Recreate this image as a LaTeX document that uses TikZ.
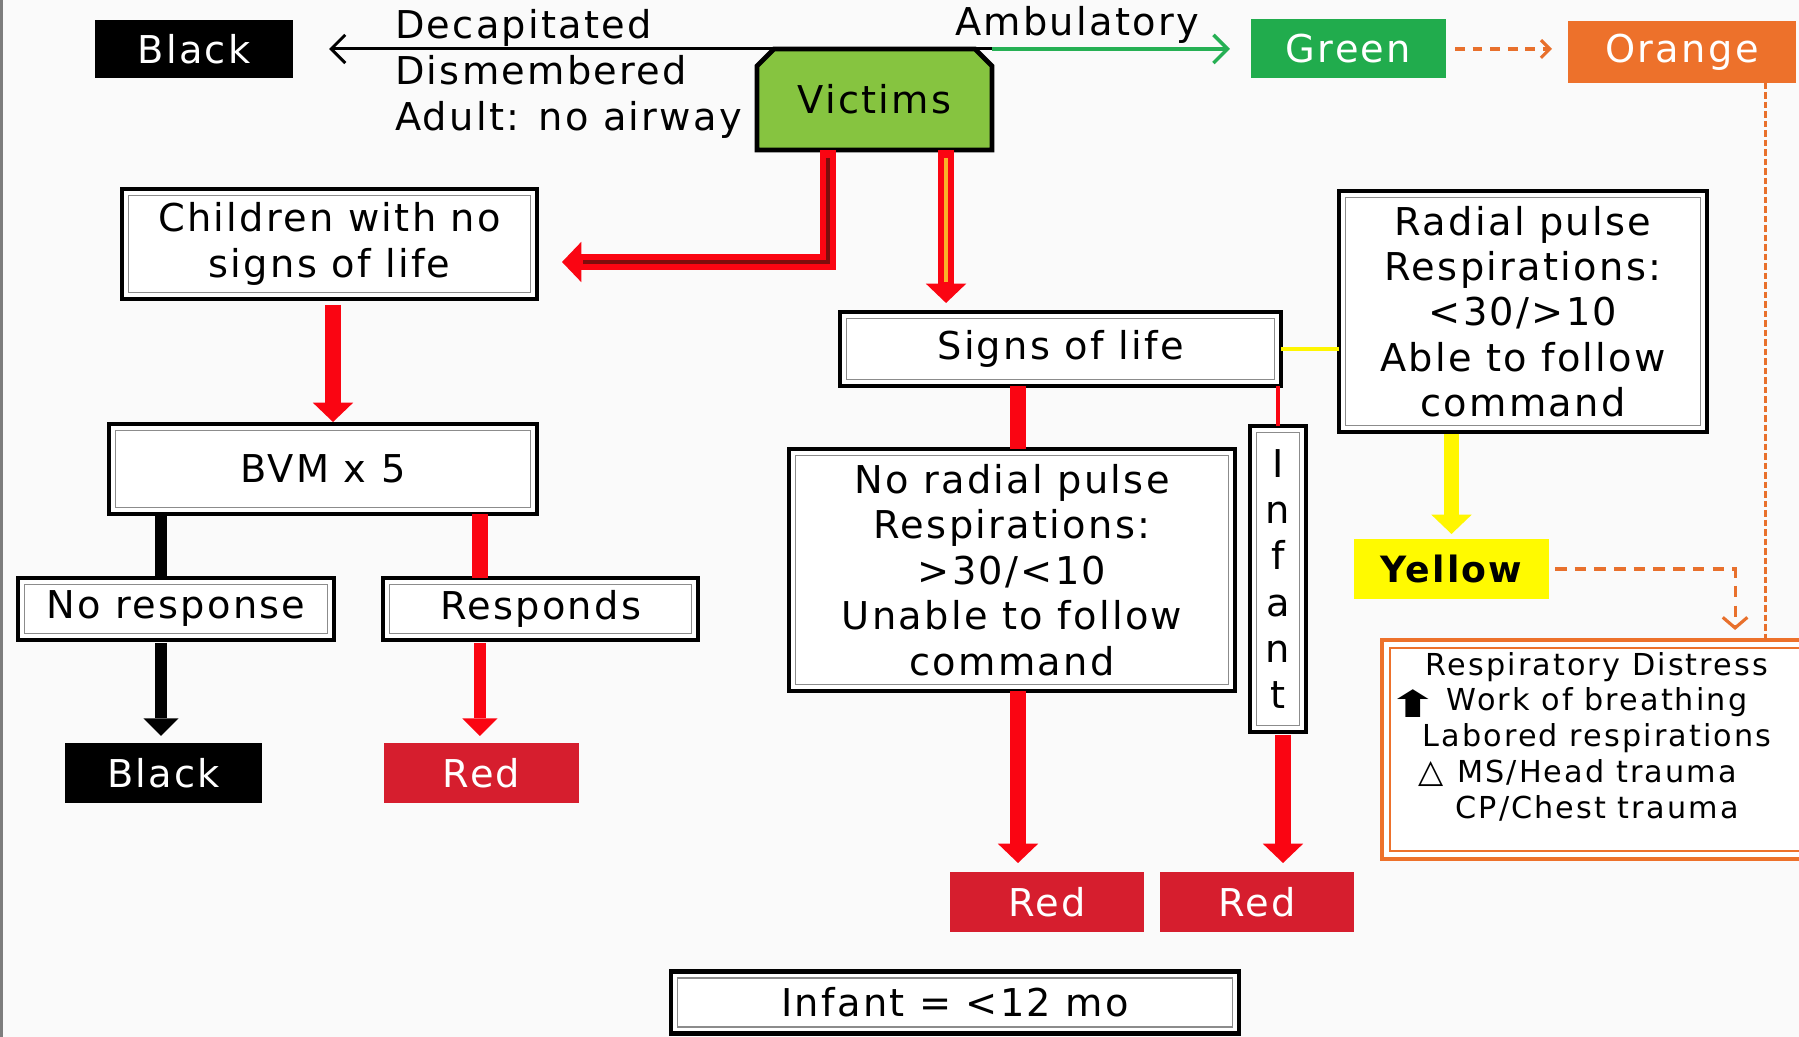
\documentclass[tikz,border=0pt]{standalone}
\usepackage{fontspec}
\setmainfont{DejaVu Sans}[LetterSpace=6]
\usetikzlibrary{arrows.meta,backgrounds}

\definecolor{pagebg}{RGB}{250,250,250}
\definecolor{framegray}{RGB}{125,125,125}
\definecolor{victimgreen}{RGB}{134,196,64}
\definecolor{tagblack}{RGB}{0,0,0}
\definecolor{taggreen}{RGB}{33,172,77}
\definecolor{tagorange}{RGB}{237,113,43}
\definecolor{tagred}{RGB}{214,30,46}
\definecolor{tagyellow}{RGB}{255,250,0}
\definecolor{flowred}{RGB}{250,5,18}
\definecolor{flowdark}{RGB}{125,12,12}
\definecolor{flowamber}{RGB}{250,178,40}
\definecolor{flowyellow}{RGB}{255,246,0}
\definecolor{flowgreen}{RGB}{38,176,84}
\definecolor{dashorange}{RGB}{232,112,44}

\tikzset{
  sz/.style 2 args={minimum width=#1*0.01cm, minimum height=#2*0.01cm},
  wbox/.style={draw=black, line width=1.3pt, fill=white, align=center,
    font=\fontsize{10.9}{12.9}\selectfont},
  innerline/.style={draw=black!45, line width=0.55pt},
  tag/.style={fill=#1, text=white, font=\fontsize{10.9}{12}\selectfont},
  bigtip/.style={-{Triangle[width=11.5pt,length=5.5pt,line width=0pt]}},
  blacktip/.style={-{Triangle[width=10pt,length=5pt,line width=0pt]}},
  redflow/.style={draw=flowred, line width=4.4pt},
  blackflow/.style={draw=black, line width=3.4pt},
  barb/.style={-{Straight Barb[length=4pt,width=8pt]}}
}

\begin{document}
\begin{tikzpicture}[x=0.01cm, y=-0.01cm,
  every node/.style={inner sep=0pt, outer sep=0pt}]
\useasboundingbox (0,0) rectangle (1799,1037);
\begin{pgfonlayer}{background}
  \fill[pagebg] (0,0) rectangle (1799,1037);
  \draw[framegray, line width=0.9pt] (1.5,0) -- (1.5,1037);
\end{pgfonlayer}
\clip (0,0) rectangle (1799,1037);

% top row
\node[tag=tagblack, sz={198}{58}] (blktop) at (194,49) {Black};
\node[anchor=west, align=left, font=\fontsize{10.9}{13.1}\selectfont] (lethal) at (395,74)
  {Decapitated\\Dismembered\\Adult: no airway};
\node[font=\fontsize{10.9}{12}\selectfont, sz={235}{101}] (vic) at (874.5,99.5) {Victims};
\node[font=\fontsize{10.9}{12}\selectfont] (amb) at (1077,25) {Ambulatory};
\node[tag=taggreen, sz={195}{59}] (grn) at (1348.5,49) {Green};
\node[tag=tagorange, sz={228}{62}] (org) at (1682,52) {Orange};

% victims box with chamfered top corners
\begin{pgfonlayer}{background}
  \draw[fill=victimgreen, line width=1.4pt, line join=miter]
    (vic.south west) -- ([shift={(0,17)}]vic.north west) -- ([shift={(17,0)}]vic.north west)
    -- ([shift={(-17,0)}]vic.north east) -- ([shift={(0,17)}]vic.north east)
    -- (vic.south east) -- cycle;
\end{pgfonlayer}

% left branch
\node[wbox, sz={415}{110}] (child) at (329.5,244) {Children with no\\signs of life};
\node[wbox, sz={428}{90}] (bvm) at (323,469) {BVM x 5};
\node[wbox, sz={316}{62}] (nores) at (176,609) {No response};
\node[wbox, sz={315}{62}] (resps) at (540.5,609) {Responds};
\node[tag=tagblack, sz={197}{60}] (blkbot) at (163.5,773) {Black};
\node[tag=tagred, sz={195}{60}] (redl) at (481.5,773) {Red};

% right branch
\node[wbox, sz={441}{74}] (sig) at (1060.5,349) {Signs of life};
\node[wbox, sz={368}{241}] (rad) at (1523,311.5)
  {Radial pulse\\Respirations:\\<30/>10\\Able to follow\\command};
\node[wbox, sz={446}{242}] (nrp) at (1012,570)
  {No radial pulse\\Respirations:\\>30/<10\\Unable to follow\\command};
\node[wbox, sz={56}{306}, font=\fontsize{10.9}{13.1}\selectfont] (inf) at (1278,579) {I\\n\\f\\a\\n\\t};
\node[tag=tagyellow, text=black, font=\bfseries\fontsize{10.3}{12}\selectfont, sz={195}{60}]
  (yel) at (1451.5,569) {Yellow};
\node[draw=tagorange, line width=1.3pt, fill=white, align=center,
  font=\fontsize{8.6}{10.2}\selectfont\addfontfeatures{LetterSpace=7}, sz={430}{219}] (resp) at (1597,749.5)
  {Respiratory Distress\\
   \llap{\raisebox{-2pt}{\fontsize{10.5}{10}\selectfont\bfseries\scalebox{1.6}[1]{⬆}}\hspace{2.5pt}}Work of breathing\\
   Labored respirations\\
   \llap{{\fontsize{9.3}{10}\selectfont △}\hspace{4pt}}MS/Head trauma\\
   CP/Chest trauma\\[-2.1pt]\mbox{}};
\node[tag=tagred, sz={194}{60}] (redm) at (1047,902) {Red};
\node[tag=tagred, sz={194}{60}] (redr) at (1257,902) {Red};
\node[wbox, sz={568}{62}] (infage) at (955,1002.5) {Infant = <12 mo};

% inner frame lines of the white boxes
\foreach \n in {child,bvm,nores,resps,sig,rad,nrp,inf,infage}
  \draw[innerline] ([shift={(6.5,-6.5)}]\n.south west) rectangle ([shift={(-6.5,6.5)}]\n.north east);
\draw[tagorange, line width=0.6pt] ([shift={(8,-8)}]resp.south west) rectangle ([shift={(-8,8)}]resp.north east);

% top connectors
\draw[line width=0.85pt, barb, shorten >=0.36cm] (vic.north east) -- (blktop.east);
\draw[flowgreen, line width=1pt, barb, shorten >=0.21cm] (vic.north east) -- (grn.west);
\draw[dashorange, line width=0.9pt, dash pattern=on 2.8pt off 2.2pt,
  -{Straight Barb[length=2.5pt,width=5pt]}, shorten <=0.09cm, shorten >=0.16cm]
  (grn.east) -- (grn.east -| org.west);
\draw[dashorange, line width=0.85pt, dash pattern=on 1.8pt off 0.9pt]
  ([xshift=0.83cm]org.south) -- ([xshift=0.83cm]org.south |- resp.north);
\draw[dashorange, line width=0.9pt, dash pattern=on 3.3pt off 2.3pt,
  -{Straight Barb[length=3pt,width=7pt]}, shorten <=0.06cm, shorten >=0.1cm]
  (yel.east) -| ([xshift=1.38cm]resp.north);

% victims to children / signs of life
\draw[redflow, bigtip, line join=miter, shorten >=0.25cm]
  ([xshift=-0.465cm]vic.south) |- ([yshift=-0.18cm]child.east);
\draw[flowdark, line width=1.2pt, line join=miter, shorten >=0.25cm+6pt, shorten <=0.08cm]
  ([xshift=-0.465cm]vic.south) |- ([yshift=-0.18cm]child.east);
\draw[redflow, bigtip, shorten >=0.09cm]
  ([xshift=0.715cm]vic.south) -- ([xshift=0.715cm]vic.south |- sig.north);
\draw[flowamber, line width=1.2pt, shorten >=0.09cm+6pt, shorten <=0.08cm]
  ([xshift=0.715cm]vic.south) -- ([xshift=0.715cm]vic.south |- sig.north);

% left branch connectors
\draw[redflow, bigtip, shorten <=0.06cm, shorten >=0.02cm]
  ([xshift=0.035cm]child.south) -- ([xshift=0.035cm]child.south |- bvm.north);
\draw[blackflow] ([xshift=-0.15cm]nores.north |- bvm.south) -- ([xshift=-0.15cm]nores.north);
\draw[blackflow, blacktip, shorten <=0.03cm, shorten >=0.07cm]
  ([xshift=-0.15cm]nores.south) -- ([xshift=-0.15cm]nores.south |- blkbot.north);
\draw[redflow] ([xshift=-0.605cm]resps.north |- bvm.south) -- ([xshift=-0.605cm]resps.north);
\draw[redflow, line width=3.4pt, blacktip, shorten <=0.03cm, shorten >=0.07cm]
  ([xshift=-0.605cm]resps.south) -- ([xshift=-0.605cm]resps.south |- redl.north);

% right branch connectors
\draw[redflow] ([xshift=0.06cm]nrp.north |- sig.south) -- ([xshift=0.06cm]nrp.north);
\draw[redflow, bigtip, shorten >=0.09cm]
  ([xshift=0.06cm]nrp.south) -- ([xshift=0.06cm]nrp.south |- redm.north);
\draw[flowred, line width=0.9pt] (inf.north |- sig.south) -- (inf.north);
\draw[redflow, bigtip, shorten <=0.03cm, shorten >=0.09cm]
  ([xshift=0.05cm]inf.south) -- ([xshift=0.05cm]inf.south |- redr.north);
\draw[flowyellow, line width=1pt] (sig.east) -- (sig.east -| rad.west);
\draw[flowyellow, line width=4.4pt, bigtip, shorten <=0.02cm, shorten >=0.05cm]
  (yel.north |- rad.south) -- (yel.north);
\end{tikzpicture}
\end{document}
